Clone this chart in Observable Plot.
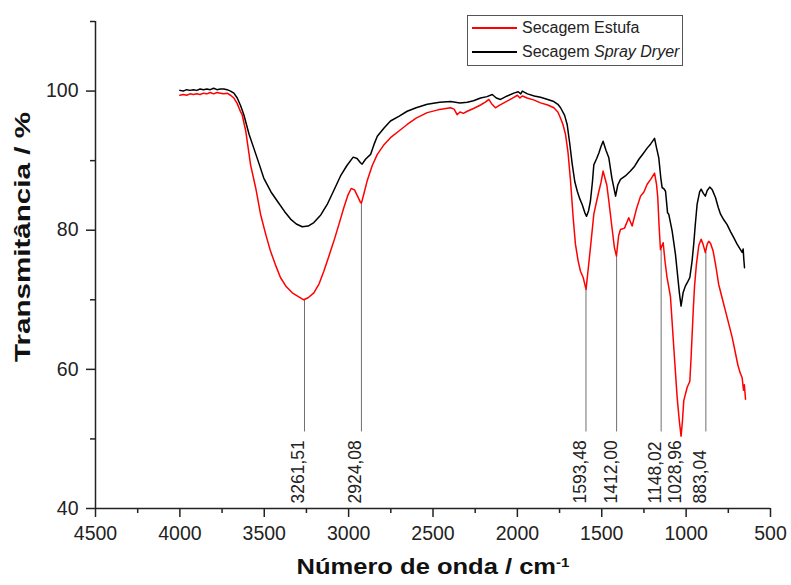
<!DOCTYPE html>
<html><head><meta charset="utf-8">
<script src="https://cdn.jsdelivr.net/npm/d3@7"></script>
<script src="https://cdn.jsdelivr.net/npm/@observablehq/plot@0.6"></script>
<style>
body{margin:0;background:#fff;}
#wrap{position:relative;width:791px;height:585px;}
#legend{position:absolute;left:467px;top:15px;width:216px;height:51px;box-sizing:border-box;border:1px solid #555;font-family:"Liberation Sans",Arial,sans-serif;font-size:16px;color:#222;background:#fff;}
.row{height:24px;display:flex;align-items:center;white-space:nowrap;}
.sw{width:45px;height:2px;margin-left:4px;margin-right:5px;flex:none;}
</style></head><body>
<div id="wrap"></div>
<script>
const seriesNames = ["Secagem Estufa", "Secagem Spray Dryer"];
const seriesColors = ["#ff0000", "#000000"];

const estufaWn = [4000,3980,3960,3940,3920,3900,3880,3860,3840,3820,3800,3780,3760,3740,3720,3700,3680,3660,3640,3631,3610,3581,3550,3522,3490,3463,3430,3404,3370,3334,3300,3266,3240,3206,3175,3147,3118,3088,3058,3029,3005,2985,2965,2945,2930,2924,2910,2890,2860,2830,2790,2752,2700,2653,2600,2534,2470,2396,2375,2357,2340,2320,2297,2260,2218,2190,2169,2150,2130,2110,2080,2050,2021,2000,1985,1970,1942,1900,1863,1820,1784,1760,1744,1730,1715,1700,1685,1670,1656,1640,1626,1610,1593,1580,1567,1547,1530,1517,1505,1492,1480,1470,1458,1440,1425,1413,1400,1389,1365,1340,1320,1295,1270,1250,1231,1210,1187,1175,1168,1160,1152,1143,1136,1125,1113,1093,1073,1053,1040,1030,1022,1014,994,978,970,958,950,939,925,911,900,886,875,866,855,840,825,807,787,767,747,727,710,694,680,668,660,655,648];
const estufaT = [99.4,99.5,99.4,99.6,99.5,99.6,99.5,99.7,99.6,99.8,99.6,99.8,99.7,99.6,99.7,99.4,99.0,98.2,97.0,96.6,94.3,89.4,86.0,82.3,79.3,77.0,74.8,73.2,71.9,71.0,70.5,70.0,70.3,71.0,72.3,74.1,76.2,78.4,80.8,83.2,85.0,86.0,85.8,84.8,84.0,83.9,85.2,87.1,89.3,90.9,92.3,93.3,94.3,95.2,96.1,96.9,97.3,97.6,97.4,96.6,97.0,96.8,97.1,97.5,98.0,98.4,98.8,98.1,97.6,97.9,98.3,98.7,99.1,99.4,99.0,99.3,99.0,98.7,98.3,98.0,97.6,97.0,96.1,95.2,93.8,91.2,87.1,82.0,78.0,75.6,74.1,73.2,71.5,74.5,77.5,82.3,84.2,85.6,86.8,88.5,87.4,86.5,84.2,80.5,77.5,76.3,79.2,80.1,80.3,81.8,80.6,83.0,84.9,85.5,86.6,87.3,88.2,86.5,84.7,80.5,77.2,77.8,78.2,75.5,73.2,70.5,63.1,55.9,52.5,50.4,52.5,55.5,57.4,58.3,62.0,68.4,72.0,75.1,77.8,78.7,78.0,76.8,78.0,78.4,78.1,77.0,75.0,72.2,70.3,68.4,66.5,64.6,62.6,60.7,59.5,58.8,57.0,57.8,55.7];

const sprayWn = [4000,3980,3960,3940,3920,3900,3880,3860,3840,3820,3800,3780,3760,3740,3720,3700,3680,3660,3640,3621,3590,3562,3530,3503,3460,3423,3380,3344,3310,3275,3240,3206,3165,3127,3090,3048,3010,2973,2950,2930,2920,2900,2870,2850,2830,2790,2752,2700,2653,2600,2534,2460,2396,2340,2297,2260,2218,2180,2149,2125,2100,2060,2021,1995,1980,1971,1940,1900,1863,1820,1784,1760,1744,1720,1705,1690,1675,1660,1645,1630,1616,1600,1590,1578,1567,1555,1547,1530,1517,1505,1492,1475,1458,1440,1418,1405,1389,1360,1330,1305,1280,1255,1231,1210,1187,1175,1162,1150,1142,1133,1122,1110,1103,1083,1063,1053,1040,1030,1018,1004,990,978,965,955,945,935,920,911,898,886,875,860,845,826,810,796,777,757,737,717,698,678,668,662,658,654];
const sprayT = [100.1,100.0,100.2,100.1,100.2,100.1,100.3,100.2,100.3,100.2,100.4,100.2,100.3,100.3,100.2,100.0,99.7,99.0,97.9,96.6,93.8,91.8,89.5,87.5,85.5,84.2,82.7,81.6,80.9,80.5,80.6,81.1,82.2,83.7,85.6,87.8,89.3,90.5,90.3,89.7,89.5,90.2,90.9,92.3,93.5,94.7,95.7,96.4,97.1,97.6,98.1,98.4,98.5,98.3,98.4,98.6,99.0,99.2,99.5,99.0,98.8,99.3,99.7,99.9,99.6,100.0,99.6,99.3,99.1,98.8,98.5,98.1,97.6,96.5,95.2,92.5,89.5,87.0,85.6,84.5,83.7,82.5,82.0,82.8,84.2,87.0,89.4,90.3,91.1,92.0,92.8,91.5,90.4,87.5,84.9,86.5,87.3,87.8,88.5,89.2,90.2,91.0,91.8,92.4,93.2,91.8,90.4,87.5,86.1,86.0,85.6,82.5,82.3,79.9,76.5,74.1,71.0,69.1,71.0,72.0,72.6,73.2,75.5,78.0,81.0,83.7,85.5,85.9,85.3,84.9,85.7,86.2,85.8,84.7,83.3,82.3,81.5,80.8,79.8,78.9,78.0,77.2,76.8,77.3,75.8,74.6];

const peakWn = [3261.51, 2924.08, 1593.48, 1412.00, 1148.02, 1028.96, 883.04];
const peakLabels = ["3261,51", "2924,08", "1593,48", "1412,00", "1148,02", "1028,96", "883,04"];
const peakTop = [70.0, 83.9, 71.5, 76.3, 77.2, 50.4, 76.8];
const labelLineBottom = 51.0;

const xMajorTicks = [4500, 4000, 3500, 3000, 2500, 2000, 1500, 1000, 500];
const xMinorTicks = [4250, 3750, 3250, 2750, 2250, 1750, 1250, 750];
const yMajorTicks = [40, 60, 80, 100];
const yMinorTicks = [50, 70, 90, 110];

const xTitle = "Número de onda / cm";
const xTitleSup = "-1";
const yTitle = "Transmitância / %";

const estufa = estufaWn.map((w, i) => ({wn: w, t: estufaT[i]}));
const spray = sprayWn.map((w, i) => ({wn: w, t: sprayT[i]}));
const peaks = peakWn.map((w, i) => ({wn: w, label: peakLabels[i], top: peakTop[i]}));

const axisColor = "#222";
const chart = Plot.plot({
  width: 791, height: 585,
  marginLeft: 95, marginRight: 21, marginTop: 21, marginBottom: 77,
  style: {fontFamily: "'Liberation Sans', Arial, sans-serif", fontSize: "19.5px", color: axisColor, background: "#fff"},
  x: {domain: [4500, 500]},
  y: {domain: [40, 110]},
  marks: [
    Plot.ruleX(peaks, {x: "wn", y1: "top", y2: labelLineBottom, stroke: "#707070", strokeWidth: 1}),
    Plot.text(peaks, {x: "wn", text: "label", frameAnchor: "bottom", dy: -5, rotate: -90, textAnchor: "start", fontSize: 17.5, fill: "#222"}),
    Plot.line(estufa, {x: "wn", y: "t", stroke: seriesColors[0], strokeWidth: 1.5}),
    Plot.line(spray, {x: "wn", y: "t", stroke: seriesColors[1], strokeWidth: 1.5}),
    Plot.axisX(xMajorTicks, {tickSize: 9, tickPadding: 9, tickFormat: "d", label: null, strokeWidth: 1.5, fontSize: 19.5}),
    Plot.axisX(xMinorTicks, {tickSize: 5, tickFormat: () => "", label: null, strokeWidth: 1.5}),
    Plot.axisY(yMajorTicks, {tickSize: 9, tickPadding: 8, tickFormat: "d", label: null, strokeWidth: 1.5, fontSize: 19.5}),
    Plot.axisY(yMinorTicks, {tickSize: 5, tickFormat: () => "", label: null, strokeWidth: 1.5}),
    Plot.ruleY([40], {stroke: axisColor, strokeWidth: 1.5}),
    Plot.ruleX([4500], {stroke: axisColor, strokeWidth: 1.5}),
    Plot.text([yTitle], {frameAnchor: "left", rotate: -90, textAnchor: "start", dx: -73, dy: 97, fontSize: 22, fontWeight: "bold", fill: "#111"}),
    Plot.text([xTitle], {frameAnchor: "bottom", dy: 65, fontSize: 22, fontWeight: "bold", fill: "#111"})
  ]
});

const svg = d3.select(chart);
svg.selectAll("text").filter(function() { return this.textContent === xTitle; }).each(function() {
  const t = d3.select(this);
  t.append("tspan").attr("dy", "-0.5em").attr("font-size", "13px").text(xTitleSup);
  t.attr("textLength", 273).attr("lengthAdjust", "spacingAndGlyphs");
});
svg.selectAll("text").filter(function() { return this.textContent === yTitle; })
  .attr("textLength", 250).attr("lengthAdjust", "spacingAndGlyphs");

const wrap = document.getElementById("wrap");
wrap.appendChild(chart);

const legend = document.createElement("div");
legend.id = "legend";
seriesNames.forEach((name, i) => {
  const row = document.createElement("div");
  row.className = "row";
  const sw = document.createElement("span");
  sw.className = "sw";
  sw.style.background = seriesColors[i];
  row.appendChild(sw);
  const label = document.createElement("span");
  if (i === 1) {
    label.innerHTML = "Secagem <i>" + name.slice(8) + "</i>";
  } else {
    label.textContent = name;
  }
  row.appendChild(label);
  legend.appendChild(row);
});
wrap.appendChild(legend);
</script>
</body></html>
